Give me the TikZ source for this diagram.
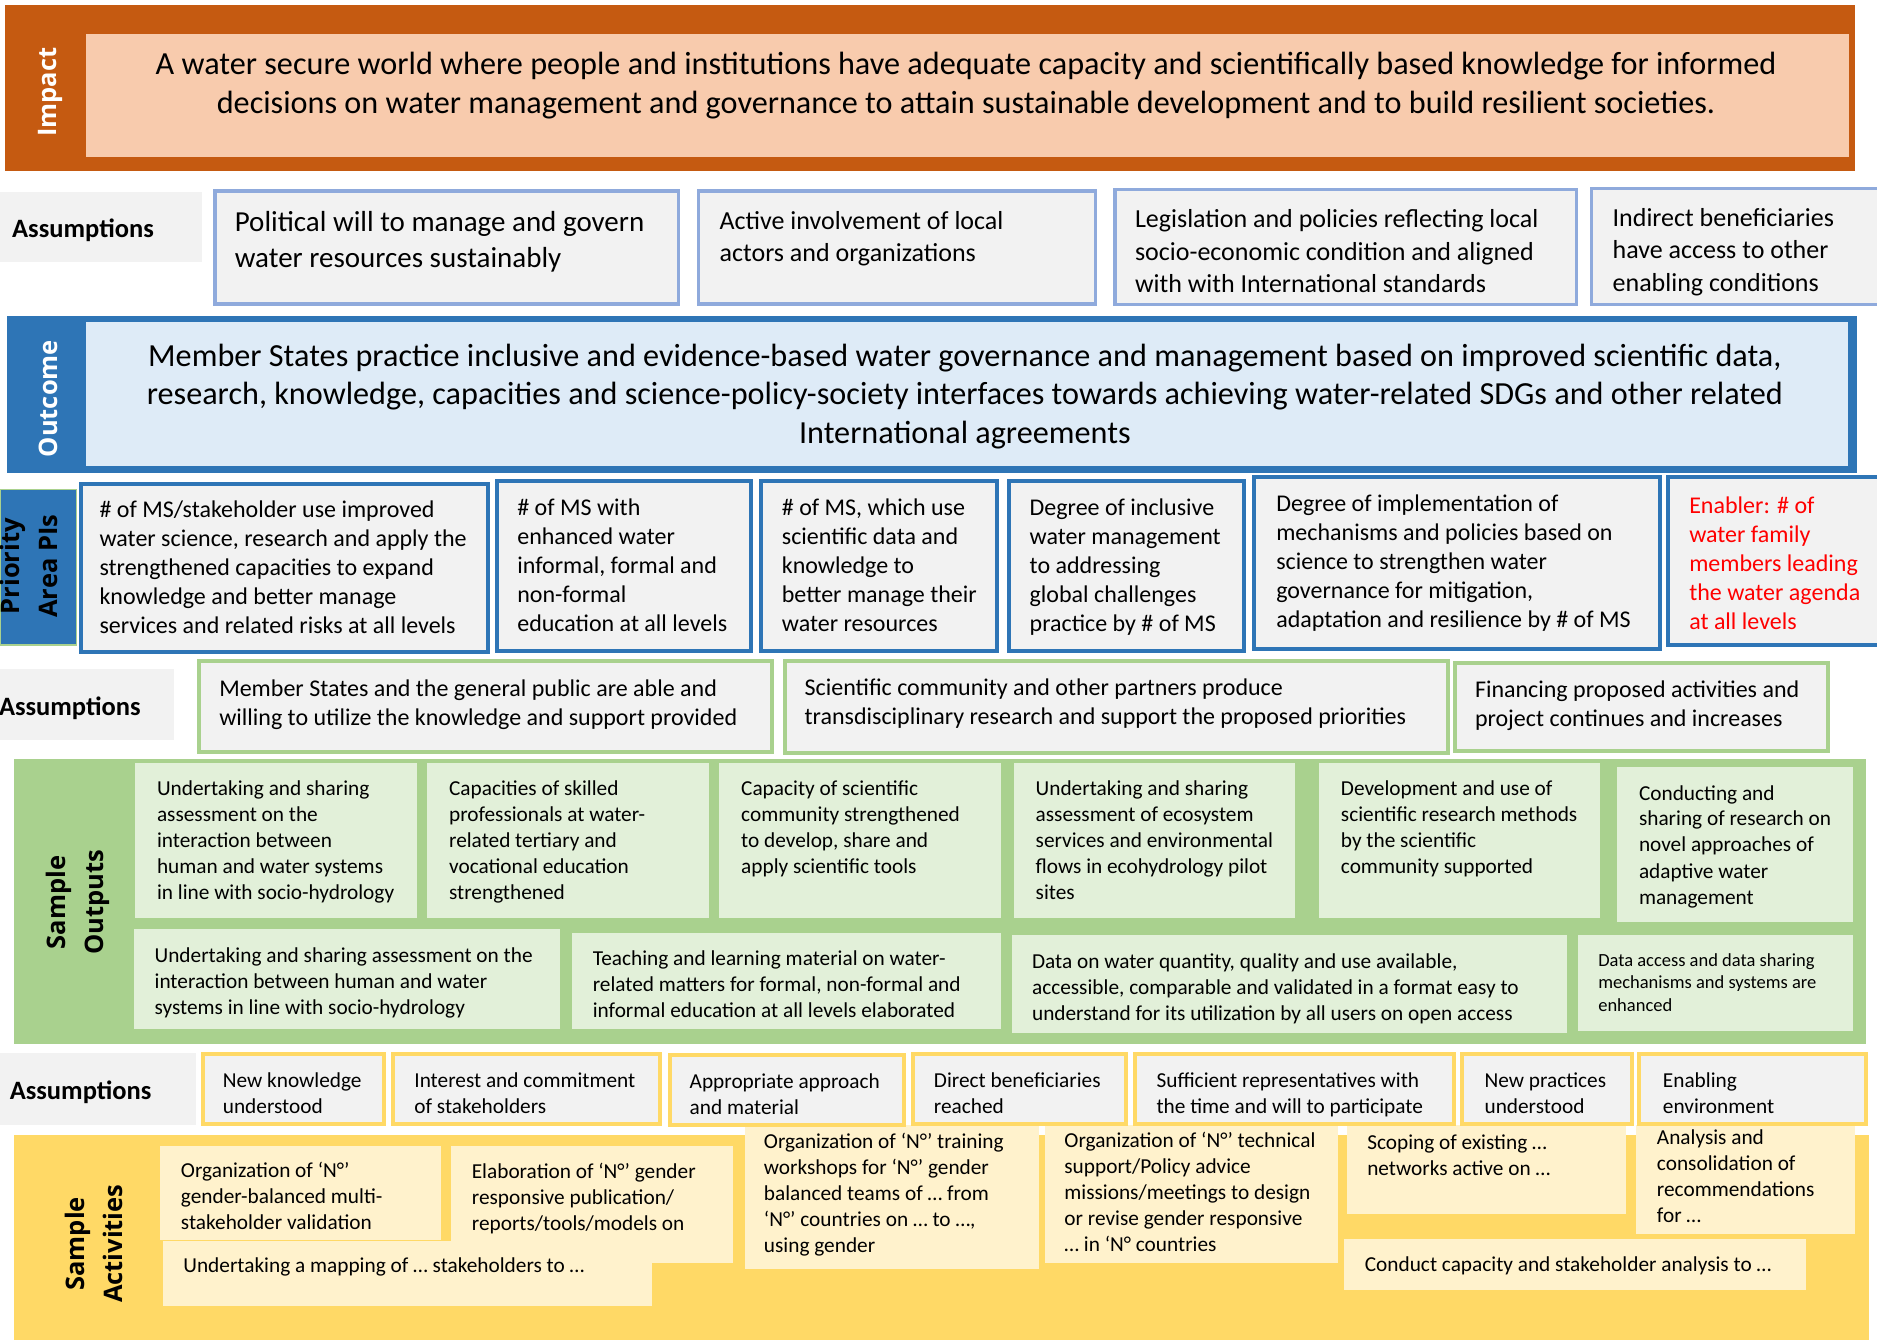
\documentclass[tikz,border=0pt]{standalone}
\usepackage{fontspec}
\setmainfont{Carlito}
\newfontfamily\hdfont{Open Sans}

\definecolor{impdark}{HTML}{C55A11}
\definecolor{implight}{HTML}{F8CBAD}
\definecolor{outdark}{HTML}{2E75B6}
\definecolor{outlight}{HTML}{DEEBF7}
\definecolor{asmgrey}{HTML}{F2F2F2}
\definecolor{asmblue}{HTML}{8FAADC}
\definecolor{opgreen}{HTML}{A9D18E}
\definecolor{oplight}{HTML}{E2F0D9}
\definecolor{actyellow}{HTML}{FFD966}
\definecolor{actlight}{HTML}{FFF2CC}
\definecolor{enred}{HTML}{FF0000}

\tikzset{head/.style={rotate=90, white, inner sep=0pt, align=center, font=\hdfont\bfseries\fontsize{25.5}{38}\selectfont}}
\tikzset{asm word/.style={anchor=west, inner sep=0pt, yshift=-3pt, font=\bfseries\fontsize{26.5}{32}\selectfont}}
\tikzset{blue box/.style={fill=asmgrey, draw=asmblue, line width=3.5pt}}
\tikzset{pi box/.style={fill=asmgrey, draw=outdark, line width=4pt}}
\tikzset{green box/.style={fill=asmgrey, draw=opgreen, line width=4pt}}
\tikzset{yellow box/.style={fill=asmgrey, draw=actyellow, line width=4pt}}
\tikzset{txt/.style={anchor=north west, inner sep=0pt, align=left, yshift=-3.5pt}}
\tikzset{t32/.style={txt, font=\fontsize{32.2}{38.3}\selectfont}}
\tikzset{t29/.style={txt, font=\fontsize{29}{36}\selectfont}}
\tikzset{t26/.style={txt, font=\fontsize{26}{32.3}\selectfont}}
\tikzset{t24/.style={txt, font=\fontsize{24}{29}\selectfont}}
\tikzset{t21/.style={txt, font=\fontsize{21.3}{26}\selectfont}}
\tikzset{t18/.style={txt, font=\fontsize{18.5}{22.7}\selectfont}}

\begin{document}
\begin{tikzpicture}[x=1.19707pt, y=-1.19707pt]
    \useasboundingbox (0,0) rectangle (1568,1119);

    % impact
    \fill[impdark] (4,4) rectangle (1550,143);
    \fill[implight] (72,28) rectangle (1545,131);
    \node[head] (impact) at (42,77) {Impact};
    \node[t32, anchor=north, align=center] (vision) at (807,37)
        {\strut A water secure world where people and institutions have adequate capacity and scientifically based knowledge for informed\\
         decisions on water management and governance to attain sustainable development and to build resilient societies.};

    % assumptions under impact
    \fill[asmgrey] (0,160) rectangle (169,219);
    \node[asm word] (asmtop) at (10,190) {Assumptions};
    \draw[blue box] (179.5,159.5) rectangle (567,254);
    \draw[blue box] (583.5,159.5) rectangle (915,254);
    \draw[blue box] (931.5,158.5) rectangle (1317,254.5);
    \draw[blue box] (1329.5,157.5) rectangle (1580,254.5);
    \node[t29] (will) at (196,169) {\strut Political will to manage and govern\\water resources sustainably};
    \node[t26] (actors) at (601,169.5) {\strut Active involvement of local\\actors and organizations};
    \node[t26] (laws) at (948,168.3) {\strut Legislation and policies reflecting local\\socio-economic condition and aligned\\with with International standards};
    \node[t26] (indirect) at (1347,167.3) {\strut Indirect beneficiaries\\have access to other\\enabling conditions};

    % outcome
    \fill[outdark] (6,264) rectangle (1551,395);
    \fill[outlight] (72,269) rectangle (1544,389);
    \node[head] (outcome) at (40,333) {Outcome};
    \node[t32, anchor=north, align=center] (practice) at (806,280.7)
        {\strut Member States practice inclusive and evidence-based water governance and management based on improved scientific data,\\
         research, knowledge, capacities and science-policy-society interfaces towards achieving water-related SDGs and other related\\
         International agreements};

    % priority area indicators
    \draw[fill=outdark, draw=opgreen, line width=1.5pt] (0,409) rectangle (64,539);
    \node[head, black] (prio) at (24,473) {Priority\\Area PIs};
    \draw[pi box] (67.5,404.5) rectangle (408,545);
    \draw[pi box] (415.5,401.5) rectangle (627,544);
    \draw[pi box] (635.5,401.5) rectangle (833,544);
    \draw[pi box] (842.5,401.5) rectangle (1039,544);
    \draw[pi box] (1047.5,398.5) rectangle (1387,542);
    \draw[pi box] (1393.5,398.5) rectangle (1580,539);
    \node[t24] (pione) at (83,412.6) {\strut \# of MS/stakeholder use improved\\water science, research and apply the\\strengthened capacities to expand\\knowledge and better manage\\services and related risks at all levels};
    \node[t24] (pitwo) at (432,410.6) {\strut \# of MS with\\enhanced water\\informal, formal and\\non-formal\\education at all levels};
    \node[t24] (pithree) at (653,410.6) {\strut \# of MS, which use\\scientific data and\\knowledge to\\better manage their\\water resources};
    \node[t24] (pifour) at (860,410.6) {\strut Degree of inclusive\\water management\\to addressing\\global challenges\\practice by \# of MS};
    \node[t24] (pifive) at (1066,407.6) {\strut Degree of implementation of\\mechanisms and policies based on\\science to strengthen water\\governance for mitigation,\\adaptation and resilience by \# of MS};
    \node[t24, enred] (pisix) at (1411,408.6) {\strut Enabler: \# of\\water family\\members leading\\the water agenda\\at all levels};

    % assumptions under indicators
    \fill[asmgrey] (0,559) rectangle (145,618);
    \node[asm word] (asmmid) at (-1,589) {Assumptions};
    \draw[green box] (166.5,552.5) rectangle (645,628);
    \draw[green box] (655.5,552.5) rectangle (1210,629);
    \draw[green box] (1215.5,553.5) rectangle (1527,627);
    \node[t24] (public) at (183,561.6) {\strut Member States and the general public are able and\\willing to utilize the knowledge and support provided};
    \node[t24] (partners) at (672,560.6) {\strut Scientific community and other partners produce\\transdisciplinary research and support the proposed priorities};
    \node[t24] (funding) at (1232,562.6) {\strut Financing proposed activities and\\project continues and increases};

    % sample outputs
    \fill[opgreen] (12,634) rectangle (1559,872);
    \node[head, black] (outputs) at (65,754) {Sample\\Outputs};
    \fill[oplight] (113,637) rectangle (348,767);
    \fill[oplight] (357,637) rectangle (592,767);
    \fill[oplight] (601,637) rectangle (836,767);
    \fill[oplight] (847,637) rectangle (1082,767);
    \fill[oplight] (1102,637) rectangle (1337,767);
    \fill[oplight] (1351,641) rectangle (1548,770);
    \fill[oplight] (112,776) rectangle (468,860);
    \fill[oplight] (478,779) rectangle (836,860);
    \fill[oplight] (845,781) rectangle (1309,863);
    \fill[oplight] (1318,781) rectangle (1548,861);
    \node[t21] (opone) at (131,646) {\strut Undertaking and sharing\\assessment on the\\interaction between\\human and water systems\\in line with socio-hydrology};
    \node[t21] (optwo) at (375,646) {\strut Capacities of skilled\\professionals at water-\\related tertiary and\\vocational education\\strengthened};
    \node[t21] (opthree) at (619,646) {\strut Capacity of scientific\\community strengthened\\to develop, share and\\apply scientific tools};
    \node[t21] (opfour) at (865,646) {\strut Undertaking and sharing\\assessment of ecosystem\\services and environmental\\flows in ecohydrology pilot\\sites};
    \node[t21] (opfive) at (1120,646) {\strut Development and use of\\scientific research methods\\by the scientific\\community supported};
    \node[t21] (opsix) at (1369,650) {\strut Conducting and\\sharing of research on\\novel approaches of\\adaptive water\\management};
    \node[t21] (opseven) at (129,786) {\strut Undertaking and sharing assessment on the\\interaction between human and water\\systems in line with socio-hydrology};
    \node[t21] (opeight) at (495,788) {\strut Teaching and learning material on water-\\related matters for formal, non-formal and\\informal education at all levels elaborated};
    \node[t21] (opnine) at (862,791) {\strut Data on water quantity, quality and use available,\\accessible, comparable and validated in a format easy to\\understand for its utilization by all users on open access};
    \node[t18] (opten) at (1335,790.7) {\strut Data access and data sharing\\mechanisms and systems are\\enhanced};

    % sample activities
    \fill[actyellow] (12,948) rectangle (1561,1125);
    \node[head, black] (activities) at (78.5,1039) {Sample\\Activities};
    \fill[actlight] (134,957) rectangle (368,1036);
    \fill[actlight] (377,957) rectangle (612,1055);
    \fill[actlight] (622,940) rectangle (868,1060);
    \fill[actlight] (873,940) rectangle (1118,1055);
    \fill[actlight] (1125,940) rectangle (1358,1014);
    \fill[actlight] (1367,940) rectangle (1550,1031);
    \fill[actlight] (136,1037) rectangle (545,1091);
    \fill[actlight] (1123,1035) rectangle (1509,1078);
    \node[t21] (acone) at (151,965) {\strut Organization of ‘N°’\\gender-balanced multi-\\stakeholder validation};
    \node[t21] (actwo) at (394,966) {\strut Elaboration of ‘N°’ gender\\responsive publication/\\reports/tools/models on};
    \node[t21] (acthree) at (638,941) {\strut Organization of ‘N°’ training\\workshops for ‘N°’ gender\\balanced teams of … from\\‘N°’ countries on … to …,\\using gender};
    \node[t21] (acfour) at (889,940) {\strut Organization of ‘N°’ technical\\support/Policy advice\\missions/meetings to design\\or revise gender responsive\\… in ‘N° countries};
    \node[t21] (acfive) at (1142,942) {\strut Scoping of existing …\\networks active on …};
    \node[t21] (acsix) at (1384,938) {\strut Analysis and\\consolidation of\\recommendations\\for …};
    \node[t21, anchor=west, yshift=0.5pt] (acmap) at (153,1056) {Undertaking a mapping of … stakeholders to …};
    \node[t21, anchor=west, yshift=1pt] (acseven) at (1140,1055) {Conduct capacity and stakeholder analysis to …};

    % assumptions under outputs
    \fill[asmgrey] (0,880) rectangle (164,940);
    \node[asm word] (asmlow) at (8,910) {Assumptions};
    \draw[yellow box] (169.5,880.5) rectangle (321,939);
    \draw[yellow box] (328.5,880.5) rectangle (551,939);
    \draw[yellow box] (559.5,881.5) rectangle (755,940);
    \draw[yellow box] (762.5,880.5) rectangle (941,939);
    \draw[yellow box] (948.5,880.5) rectangle (1215,939);
    \draw[yellow box] (1221.5,880.5) rectangle (1363,939);
    \draw[yellow box] (1369.5,880.5) rectangle (1559,939);
    \node[t21] (known) at (186,890) {\strut New knowledge\\understood};
    \node[t21] (interest) at (346,890) {\strut Interest and commitment\\of stakeholders};
    \node[t21] (approach) at (576,891) {\strut Appropriate approach\\and material};
    \node[t21] (reached) at (780,890) {\strut Direct beneficiaries\\reached};
    \node[t21] (sufficient) at (966,890) {\strut Sufficient representatives with\\the time and will to participate};
    \node[t21] (practices) at (1240,890) {\strut New practices\\understood};
    \node[t21] (enabling) at (1389,890) {\strut Enabling\\environment};
\end{tikzpicture}
\end{document}
